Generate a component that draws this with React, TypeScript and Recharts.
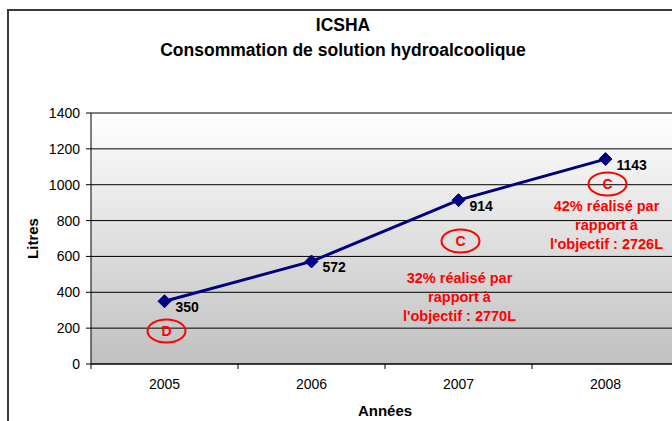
import { LineChart, Line, XAxis, YAxis, CartesianGrid, ReferenceDot, LabelList } from 'recharts'

const YEARS = ['2005', '2006', '2007', '2008']
const LITRES = [350, 572, 914, 1143]
const Y_TICKS = [0, 200, 400, 600, 800, 1000, 1200, 1400]

// ellipse grades drawn on the plot
const GRADE_YEARS = ['2005', '2007', '2008']
const GRADES = ['D', 'C', 'C']
const GRADE_LEVELS = [184, 686, 1004]

// red notes under the grades
const NOTE_YEARS = ['2007', '2008']
const NOTE_LEVELS = [480, 881]
const NOTE_LINES = [
  ['32% réalisé par', 'rapport à', "l'objectif : 2770L"],
  ['42% réalisé par', 'rapport à', "l'objectif : 2726L"],
]

const FONT = '"Liberation Sans", Arial, sans-serif'
const W = 720
const H = 440
const PLOT_LEFT = 82
const PLOT_TOP = 102
const PLOT_BOTTOM = 353
const PLOT_RIGHT = 670
const BAND = (PLOT_RIGHT - PLOT_LEFT) / YEARS.length
const NAVY = '#000080'
const RED = '#ff0000'

const data = YEARS.map((year, i) => ({ year, litres: LITRES[i] }))

function Diamond({ cx, cy }: { cx?: number; cy?: number }) {
  if (cx == null || cy == null) return null
  const r = 6.5
  return (
    <polygon
      points={`${cx},${cy - r} ${cx + r},${cy} ${cx},${cy + r} ${cx - r},${cy}`}
      fill={NAVY}
      stroke={NAVY}
    />
  )
}

function XTick({ x, payload }: { x?: number; payload?: { value: string } }) {
  if (x == null) return null
  const left = x - BAND / 2
  return (
    <g>
      <line x1={left} x2={left} y1={PLOT_BOTTOM} y2={PLOT_BOTTOM + 5} stroke="#000" />
      <text
        x={x}
        y={PLOT_BOTTOM + 20}
        dy="0.35em"
        textAnchor="middle"
        fontSize={14}
        fontFamily={FONT}
        fill="#000"
      >
        {payload?.value}
      </text>
    </g>
  )
}

function ValueLabel(props: any) {
  const { x, y, value } = props
  return (
    <text x={x + 11} y={y + 6} dy="0.35em" fontSize={14} fontWeight="bold" fontFamily={FONT} fill="#000">
      {value}
    </text>
  )
}

function gradeShape(letter: string) {
  return ({ cx, cy }: { cx?: number; cy?: number }) => {
    if (cx == null || cy == null) return <g />
    return (
      <g>
        <ellipse cx={cx + 2} cy={cy} rx={19} ry={11.5} fill="none" stroke={RED} strokeWidth={2} />
        <text
          x={cx + 2}
          y={cy}
          dy="0.35em"
          textAnchor="middle"
          fontSize={14}
          fontWeight="bold"
          fontFamily={FONT}
          fill={RED}
        >
          {letter}
        </text>
      </g>
    )
  }
}

function noteShape(lines: string[]) {
  return ({ cx, cy }: { cx?: number; cy?: number }) => {
    if (cx == null || cy == null) return <g />
    return (
      <g>
        {lines.map((t, i) => (
          <text
            key={i}
            x={cx + 1}
            y={cy + i * 19}
            dy="0.35em"
            textAnchor="middle"
            fontSize={14.5}
            fontWeight="bold"
            fontFamily={FONT}
            fill={RED}
          >
            {t}
          </text>
        ))}
      </g>
    )
  }
}

export default function App() {
  return (
    <div style={{ position: 'fixed', left: 0, top: 0, width: 672, height: 421, overflow: 'hidden', background: '#fff' }}>
      <div
        style={{
          position: 'absolute',
          left: 7,
          top: 9,
          borderLeft: '2px solid #3a3a3a',
          borderTop: '2px solid #3a3a3a',
          width: W,
          height: H,
          fontFamily: FONT,
        }}
      >
        <div
          style={{
            position: 'absolute',
            left: 0,
            top: 2,
            width: 668,
            textAlign: 'center',
            fontWeight: 'bold',
            fontSize: 17.5,
            lineHeight: '25px',
            color: '#000',
          }}
        >
          <div>ICSHA</div>
          <div>Consommation de solution hydroalcoolique</div>
        </div>
        <LineChart
          width={W}
          height={H}
          data={data}
          margin={{ top: PLOT_TOP, right: W - PLOT_RIGHT, left: 0, bottom: H - PLOT_BOTTOM - 60 }}
        >
          <defs>
            <linearGradient id="plotBg" x1="0" y1="0" x2="0" y2="1">
              <stop offset="0%" stopColor="#ffffff" />
              <stop offset="100%" stopColor="#c0c0c0" />
            </linearGradient>
          </defs>
          <CartesianGrid vertical={false} stroke="#000" fill="url(#plotBg)" fillOpacity={1} />
          <XAxis
            dataKey="year"
            height={60}
            padding={{ left: BAND / 2, right: BAND / 2 }}
            axisLine={{ stroke: '#000' }}
            tickLine={false}
            tick={<XTick />}
            interval={0}
            label={{
              value: 'Années',
              position: 'insideBottom',
              offset: 8,
              style: { fontSize: 15, fontWeight: 'bold', fill: '#000', fontFamily: FONT },
            }}
          />
          <YAxis
            width={PLOT_LEFT}
            domain={[0, 1400]}
            ticks={Y_TICKS}
            interval={0}
            axisLine={{ stroke: '#000' }}
            tickLine={{ stroke: '#000' }}
            tickSize={5}
            tickMargin={6}
            tick={{ fontSize: 14, fill: '#000', fontFamily: FONT }}
            label={{
              value: 'Litres',
              angle: -90,
              position: 'insideLeft',
              offset: 24,
              style: { textAnchor: 'middle', fontSize: 15, fontWeight: 'bold', fill: '#000', fontFamily: FONT },
            }}
          />
          {GRADE_YEARS.map((yr, i) => (
            <ReferenceDot key={'g' + i} x={yr} y={GRADE_LEVELS[i]} r={0} shape={gradeShape(GRADES[i])} />
          ))}
          {NOTE_YEARS.map((yr, i) => (
            <ReferenceDot key={'n' + i} x={yr} y={NOTE_LEVELS[i]} r={0} shape={noteShape(NOTE_LINES[i])} />
          ))}
          <Line
            dataKey="litres"
            stroke={NAVY}
            strokeWidth={3}
            dot={<Diamond />}
            activeDot={false}
            isAnimationActive={false}
          >
            <LabelList dataKey="litres" content={<ValueLabel />} />
          </Line>
        </LineChart>
      </div>
    </div>
  )
}
